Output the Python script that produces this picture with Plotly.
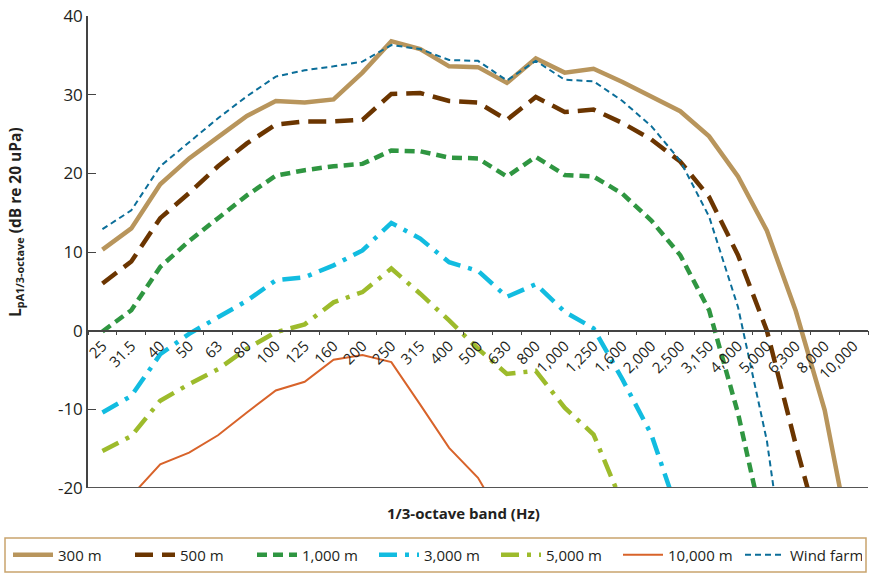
import plotly.graph_objects as go

bands = ["25", "31.5", "40", "50", "63", "80", "100", "125", "160", "200", "250", "315",
         "400", "500", "630", "800", "1,000", "1,250", "1,600", "2,000", "2,500", "3,150",
         "4,000", "5,000", "6,300", "8,000", "10,000"]

m300 = [10.3, 13.0, 18.6, 21.9, 24.6, 27.3, 29.2, 29.0, 29.4, 32.8, 36.8, 35.8, 33.6, 33.5,
        31.5, 34.6, 32.8, 33.3, 31.6, 29.8, 27.9, 24.7, 19.6, 12.7, 2.5, -10.1, -29.0]
m500 = [6.0, 8.8, 14.3, 17.5, 20.9, 23.8, 26.2, 26.6, 26.6, 26.8, 30.1, 30.2, 29.2, 29.0,
        26.8, 29.7, 27.8, 28.1, 26.4, 24.3, 21.5, 17.0, 9.6, 0.0, -14.5, -28.0, None]
m1000 = [-0.1, 2.6, 8.1, 11.4, 14.3, 17.2, 19.7, 20.4, 20.9, 21.2, 22.9, 22.8, 22.0, 21.9,
         19.6, 22.1, 19.8, 19.6, 17.4, 14.0, 9.6, 2.6, -10.5, -27.0, None, None, None]
m3000 = [-10.4, -8.3, -3.0, -0.4, 1.7, 3.8, 6.4, 6.8, 8.3, 10.2, 13.7, 11.7, 8.7, 7.6,
         4.3, 5.9, 2.4, 0.3, -6.2, -13.2, -24.0, None, None, None, None, None, None]
m5000 = [-15.3, -13.4, -8.9, -6.8, -4.9, -2.3, -0.2, 0.8, 3.6, 4.9, 7.9, 4.7, 1.3, -2.3,
         -5.5, -5.1, -9.8, -13.2, -22.0, None, None, None, None, None, None, None, None]
m10000 = [None, -21.0, -17.0, -15.5, -13.3, -10.4, -7.6, -6.5, -3.7, -3.1, -4.0, -9.4, -14.9,
          -18.7, -25.0, None, None, None, None, None, None, None, None, None, None, None, None]
wind = [12.9, 15.3, 20.9, 24.0, 27.0, 29.8, 32.3, 33.1, 33.6, 34.2, 36.3, 35.8, 34.4, 34.3,
        31.8, 34.3, 31.9, 31.7, 29.2, 26.0, 21.6, 14.5, 3.0, -14.0, -40.0, None, None]

y_ticks = [40, 30, 20, 10, 0, -10, -20]

FONT = "Open Sans"
TXT = "#231F20"

series = [
    ("300 m", m300, "#B8955C", 4.5, "solid"),
    ("500 m", m500, "#6B3500", 4.5, "18px,9px"),
    ("1,000 m", m1000, "#2F9641", 4.5, "10px,6px"),
    ("3,000 m", m3000, "#12BCE0", 4.5, "18px,8px,4px,8px"),
    ("5,000 m", m5000, "#9DBB2C", 4.5, "18px,8px,4px,8px"),
    ("10,000 m", m10000, "#D8632A", 2, "solid"),
    ("Wind farm", wind, "#0B6E99", 2, "6px,4px"),
]

fig = go.Figure()
for name, vals, color, w, dash in series:
    fig.add_trace(go.Scatter(
        x=bands, y=vals, name=name, mode="lines",
        line=dict(color=color, width=w, dash=dash),
        connectgaps=False,
    ))

L, R, T, B = 88, 868, 16, 488
PW, PH = R - L, B - T

fig.update_layout(
    width=869, height=574,
    margin=dict(l=L, r=869 - R, t=T, b=574 - B, autoexpand=False),
    paper_bgcolor="white", plot_bgcolor="white",
    font=dict(family=FONT, size=14, color=TXT),
    showlegend=True,
    legend=dict(
        orientation="h", x=(8 - L) / PW, y=(B - 555) / PH, xanchor="left", yanchor="middle",
        font=dict(family=FONT, size=15, color=TXT),
        bgcolor="rgba(0,0,0,0)", borderwidth=0,
        itemwidth=40, tracegroupgap=0,
        entrywidth=67, entrywidthmode="pixels",
    ),
    xaxis=dict(
        type="category", categoryorder="array", categoryarray=bands,
        anchor="free", position=1/3,
        showline=True, linecolor="#444444", linewidth=1.5,
        ticks="outside", ticklen=4, tickcolor="#444444", tickwidth=1,
        tickson="boundaries", tickangle=-45,
        tickfont=dict(family=FONT, size=15, color=TXT),
        showgrid=False, zeroline=False,
        range=[-0.5, len(bands) - 0.5],
    ),
    yaxis=dict(
        range=[-20, 40], tickvals=y_ticks, ticktext=[str(v) for v in y_ticks],
        showline=True, linecolor="#444444", linewidth=1.5,
        ticks="inside", ticklen=8, tickcolor="#444444", tickwidth=1.2,
        tickfont=dict(family=FONT, size=17, color=TXT),
        showgrid=False, zeroline=False,
    ),
)

# bottom border line of plot area at y = -20
fig.add_shape(type="line", xref="paper", x0=0, x1=1, yref="y", y0=-20, y1=-20,
              line=dict(color="#555555", width=2), layer="above")

# y axis title
fig.add_annotation(text="<b>L<sub>pA1/3-octave</sub> (dB re 20 uPa)</b>", xref="paper", yref="paper",
                   x=(16 - L) / PW, y=(B - 222) / PH, xanchor="center", yanchor="middle",
                   textangle=-90, showarrow=False,
                   font=dict(family=FONT, size=15.5, color=TXT))

# x axis title
fig.add_annotation(text="<b>1/3-octave band (Hz)</b>", xref="paper", yref="paper",
                   x=(463 - L) / PW, y=(B - 513) / PH, xanchor="center", yanchor="middle",
                   showarrow=False,
                   font=dict(family=FONT, size=15, color=TXT))

# legend frame
fig.add_shape(type="rect", xref="paper", yref="paper",
              x0=(5 - L) / PW, x1=(866 - L) / PW,
              y0=(B - 538) / PH, y1=(B - 572) / PH,
              line=dict(color="#C9A46E", width=1.5), fillcolor="rgba(0,0,0,0)")

fig.write_html("out.html",
               config={"displayModeBar": False},
               post_script="document.body.style.margin='0px';document.body.style.overflow='hidden';")
